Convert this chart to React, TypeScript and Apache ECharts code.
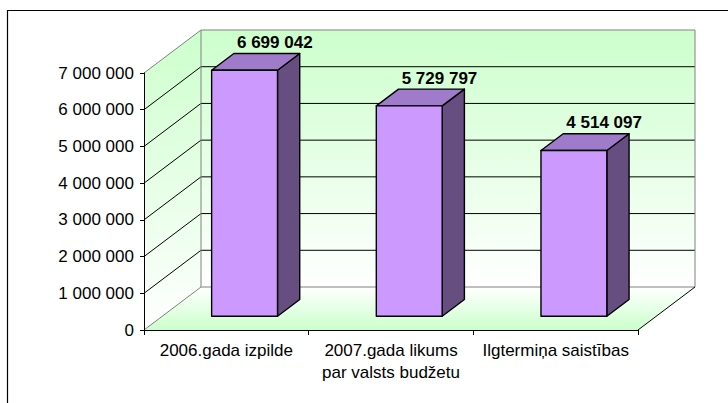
import React, { useEffect, useRef } from "react";
import * as echarts from "echarts";

const categories = [
  "2006.gada izpilde",
  "2007.gada likums\npar valsts budžetu",
  "Ilgtermiņa saistības",
];
const values = [6699042, 5729797, 4514097];
const yTicks = [0, 1000000, 2000000, 3000000, 4000000, 5000000, 6000000, 7000000];
const yMax = 7000000;
const yStep = 1000000;

const FONT = '"Liberation Sans", Arial, sans-serif';
const DX = 57;
const DY = -43;
const F0 = 0.32;
const F1 = 0.71;

const fmt = (v: number) =>
  String(Math.round(v)).replace(/\B(?=(\d{3})+(?!\d))/g, " ");

export default function App() {
  const ref = useRef<HTMLDivElement>(null);

  useEffect(() => {
    if (!ref.current) return;
    const chart = echarts.init(ref.current, undefined, { renderer: "svg" });

    const wallGrad = () =>
      new echarts.graphic.LinearGradient(0, 0, 0, 1, [
        { offset: 0, color: "#CCFFCC" },
        { offset: 1, color: "#FFFFFF" },
      ]);
    const floorGrad = () =>
      new echarts.graphic.LinearGradient(0, 0, 0, 1, [
        { offset: 0, color: "#FFFFFF" },
        { offset: 1, color: "#CCFFCC" },
      ]);

    const option: any = {
      animation: false,
      backgroundColor: "#FFFFFF",
      grid: { left: 144, right: 90, top: 73, bottom: 73, containLabel: false },
      graphic: [
        {
          type: "rect",
          shape: { x: 7.5, y: 10.5, width: 760, height: 420 },
          style: { fill: "none", stroke: "#000", lineWidth: 1.2 },
          z: 100,
        },
      ],
      xAxis: {
        type: "category",
        data: categories,
        boundaryGap: true,
        z: 5,
        axisLine: { lineStyle: { color: "#000", width: 1 } },
        axisTick: { show: true, length: 5, interval: 0, lineStyle: { color: "#000" } },
        axisLabel: {
          interval: 0,
          color: "#000",
          fontFamily: FONT,
          fontSize: 17,
          lineHeight: 22,
          margin: 9,
        },
        splitLine: { show: false },
      },
      yAxis: {
        type: "value",
        min: 0,
        max: yMax,
        interval: yStep,
        z: 5,
        axisLine: { show: true, lineStyle: { color: "#000", width: 1 } },
        axisTick: { show: true, length: 4, lineStyle: { color: "#000" } },
        axisLabel: {
          color: "#000",
          fontFamily: FONT,
          fontSize: 17,
          margin: 10,
          formatter: (v: number) => fmt(v),
        },
        splitLine: { show: false },
      },
      series: [
        {
          type: "custom",
          z: 1,
          clip: false,
          silent: true,
          data: [[0, 0]],
          renderItem: (params: any, api: any) => {
            const cs = params.coordSys;
            const xL = cs.x;
            const xR = cs.x + cs.width;
            const y0 = api.coord([0, 0])[1];
            const yT = api.coord([0, yMax])[1];
            const children: any[] = [];
            const gray = "#808080";
            children.push({
              type: "polygon",
              shape: {
                points: [
                  [xL + DX, yT + DY],
                  [xR + DX, yT + DY],
                  [xR + DX, y0 + DY],
                  [xL + DX, y0 + DY],
                ],
              },
              style: { fill: wallGrad(), stroke: "none" },
            });
            children.push({
              type: "polygon",
              shape: {
                points: [
                  [xL, yT],
                  [xL + DX, yT + DY],
                  [xL + DX, y0 + DY],
                  [xL, y0],
                ],
              },
              style: { fill: wallGrad(), stroke: "none" },
            });
            children.push({
              type: "polygon",
              shape: {
                points: [
                  [xL, y0],
                  [xR, y0],
                  [xR + DX, y0 + DY],
                  [xL + DX, y0 + DY],
                ],
              },
              style: { fill: floorGrad(), stroke: "none" },
            });
            yTicks.forEach((t) => {
              if (t <= 0 || t >= yMax) return;
              const y = api.coord([0, t])[1];
              children.push({
                type: "line",
                shape: { x1: xL + DX, y1: y + DY, x2: xR + DX, y2: y + DY },
                style: { stroke: "#000", lineWidth: 1 },
              });
              children.push({
                type: "line",
                shape: { x1: xL, y1: y, x2: xL + DX, y2: y + DY },
                style: { stroke: "#000", lineWidth: 1 },
              });
            });
            const edges = [
              [xL, yT, xL + DX, yT + DY],
              [xL + DX, yT + DY, xR + DX, yT + DY],
              [xL + DX, yT + DY, xL + DX, y0 + DY],
              [xR + DX, yT + DY, xR + DX, y0 + DY],
              [xL + DX, y0 + DY, xR + DX, y0 + DY],
              [xL, y0, xL + DX, y0 + DY],
            ];
            edges.forEach((e) =>
              children.push({
                type: "line",
                shape: { x1: e[0], y1: e[1], x2: e[2], y2: e[3] },
                style: { stroke: gray, lineWidth: 1 },
              })
            );
            children.push({
              type: "line",
              shape: { x1: xR, y1: y0, x2: xR + DX, y2: y0 + DY },
              style: { stroke: "#000", lineWidth: 1 },
            });
            return { type: "group", children };
          },
        },
        {
          type: "custom",
          z: 3,
          clip: false,
          data: values.map((v, i) => [i, v]),
          renderItem: (params: any, api: any) => {
            const i = api.value(0);
            const v = api.value(1);
            const base = api.coord([i, 0]);
            const top = api.coord([i, v]);
            const bw = api.size([1, 0])[0] * 0.4;
            const L = base[0] - bw / 2;
            const R = base[0] + bw / 2;
            const T = top[1];
            const B = base[1];
            const p = (x: number, y: number, f: number) => [x + DX * f, y + DY * f];
            const stroke = { stroke: "#000", lineWidth: 1.4, lineJoin: "round" };
            return {
              type: "group",
              children: [
                {
                  type: "polygon",
                  shape: { points: [p(R, T, F0), p(R, T, F1), p(R, B, F1), p(R, B, F0)] },
                  style: { fill: "#664E80", ...stroke },
                },
                {
                  type: "polygon",
                  shape: { points: [p(L, T, F0), p(R, T, F0), p(R, T, F1), p(L, T, F1)] },
                  style: { fill: "#A07BCB", ...stroke },
                },
                {
                  type: "polygon",
                  shape: { points: [p(L, T, F0), p(R, T, F0), p(R, B, F0), p(L, B, F0)] },
                  style: { fill: "#CC99FF", ...stroke },
                },
                {
                  type: "text",
                  x: (L + R) / 2 + DX * F1 + 8,
                  y: T + DY * F1 - 11,
                  style: {
                    text: fmt(v),
                    fill: "#000",
                    fontFamily: FONT,
                    fontSize: 17,
                    fontWeight: "bold",
                    align: "center",
                    verticalAlign: "middle",
                  },
                },
              ],
            };
          },
        },
      ],
    };

    chart.setOption(option);
    return () => chart.dispose();
  }, []);

  return (
    <div
      ref={ref}
      style={{ position: "absolute", left: 0, top: 0, width: 728, height: 403, background: "#fff" }}
    />
  );
}
